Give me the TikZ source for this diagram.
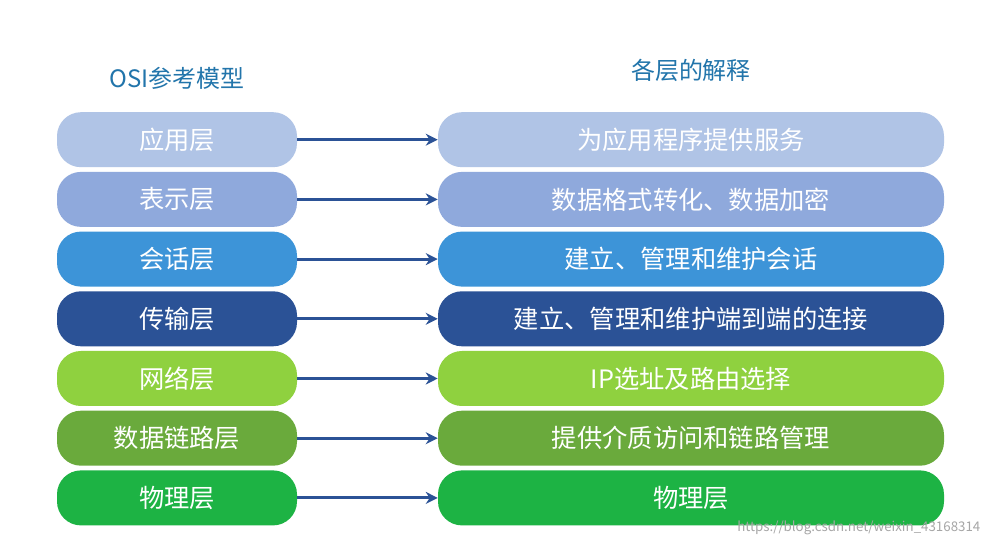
\documentclass[tikz,border=0pt]{standalone}
\usepackage{fontspec}
\setmainfont{Noto Sans CJK SC}
\begin{document}
\begin{tikzpicture}[x=0.0264cm,y=-0.0264cm,
  lbox/.style={rounded corners=18pt,minimum width=240*0.0264cm,minimum height=55*0.0264cm,inner sep=0pt,text=white,font=\fontsize{19}{22}\selectfont},
  rbox/.style={lbox,minimum width=506*0.0264cm},
  arr/.style={draw=c4,line width=2.2pt,-{Stealth[length=9pt,width=9pt]}},
  hdr/.style={text=c4!80!cyan,font=\fontsize{18}{22}\selectfont}]
\usetikzlibrary{arrows.meta}
\definecolor{c1}{HTML}{B0C4E6}
\definecolor{c2}{HTML}{8FA9DC}
\definecolor{c3}{HTML}{3D94D8}
\definecolor{c4}{HTML}{2B5296}
\definecolor{c5}{HTML}{8FD13F}
\definecolor{c6}{HTML}{6AAA3C}
\definecolor{c7}{HTML}{1DB344}
\fill[white] (0,0) rectangle (999,549);
\node[hdr] (hl) at (177,78) {OSI参考模型};
\node[hdr] (hr) at (691,70) {各层的解释};
\foreach \i/\c/\l/\r in {1/c1/应用层/为应用程序提供服务,2/c2/表示层/数据格式转化、数据加密,3/c3/会话层/建立、管理和维护会话,4/c4/传输层/建立、管理和维护端到端的连接,5/c5/网络层/IP选址及路由选择,6/c6/数据链路层/提供介质访问和链路管理,7/c7/物理层/物理层}{
  \node[lbox,fill=\c] (L\i) at (177,80+\i*59.7) {\l};
  \node[rbox,fill=\c] (R\i) at (691,80+\i*59.7) {\r};
  \draw[arr] (L\i) -- (R\i);
}
\node[text=gray!70,font=\fontsize{10}{12}\selectfont,anchor=east] (wm) at (985,528) {https://blog.csdn.net/weixin\_43168314};
\end{tikzpicture}
\end{document}
